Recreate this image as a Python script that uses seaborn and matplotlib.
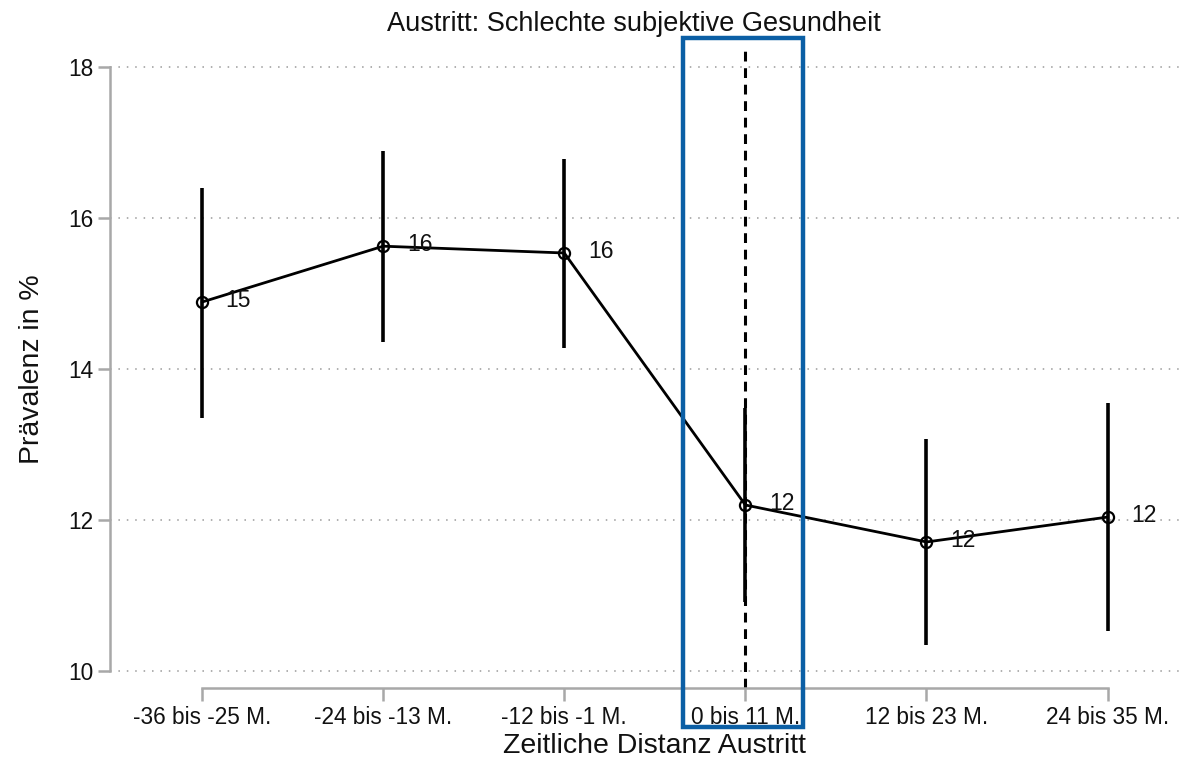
import matplotlib
matplotlib.use("Agg")
import matplotlib.pyplot as plt
from matplotlib.patches import Rectangle
import seaborn as sns
import pandas as pd
import numpy as np

# Prevalence of poor self-rated health around leaving, by time distance
categories = ["-36 bis -25 M.", "-24 bis -13 M.", "-12 bis -1 M.",
              "0 bis 11 M.", "12 bis 23 M.", "24 bis 35 M."]
prevalence = [14.89, 15.63, 15.54, 12.20, 11.71, 12.04]
ci_lower = [13.35, 14.36, 14.28, 10.91, 10.34, 10.53]
ci_upper = [16.40, 16.89, 16.78, 13.48, 13.07, 13.55]
y_ticks = [10, 12, 14, 16, 18]

title = "Austritt: Schlechte subjektive Gesundheit"
x_label = "Zeitliche Distanz Austritt"
y_label = "Prävalenz in %"

sns.set_style("white")
plt.rcParams["font.family"] = ["Liberation Sans", "DejaVu Sans"]

df = pd.DataFrame({"pos": np.arange(len(categories)), "wert": prevalence,
                   "lo": ci_lower, "hi": ci_upper, "kat": categories})

fig = plt.figure(figsize=(11.91, 7.64), dpi=100)
ax = fig.add_axes([0.0924, 0.0995, 0.8984, 0.839])

# confidence intervals
ax.vlines(df["pos"], df["lo"], df["hi"], color="black", linewidth=2.6, zorder=3)

# point estimates
sns.lineplot(data=df, x="pos", y="wert", ax=ax, color="black", linewidth=2.0,
             marker="o", markersize=8, markerfacecolor="none",
             markeredgecolor="black", markeredgewidth=1.6, zorder=4)

# value labels
for x, v in zip(df["pos"], df["wert"]):
    ax.annotate(f"{v:.0f}", (x, v), xytext=(17, 1), textcoords="offset points",
                ha="left", va="center", fontsize=16.5, color="#111111", zorder=5)

# event marker at the time of leaving
ax.axvline(3, color="black", linestyle=(0, (3.2, 2.2)), linewidth=2.2, zorder=2)

ax.set_xlim(-0.508, 5.40)
ax.set_ylim(9.775, 18.27)
ax.set_yticks(y_ticks)
ax.set_yticklabels([str(t) for t in y_ticks])
ax.set_xticks(df["pos"])
ax.set_xticklabels(categories)

for y in y_ticks:
    ax.axhline(y, color="#9a9a9a", linestyle=(0, (1, 4.5)), linewidth=1.1, zorder=1)

for side in ["top", "right"]:
    ax.spines[side].set_visible(False)
ax.spines["left"].set_bounds(10, 18)
ax.spines["bottom"].set_bounds(0, 5)
for side in ["left", "bottom"]:
    ax.spines[side].set_color("#a8a8a8")
    ax.spines[side].set_linewidth(1.8)

ax.tick_params(axis="both", which="major", length=9, width=1.8, color="#a8a8a8",
               labelsize=16.3, labelcolor="#111111", pad=3, direction="out",
               bottom=True, left=True)
ax.tick_params(axis="x", pad=4)

# axis titles centred on the spine ranges
x_mid = (2.5 - ax.get_xlim()[0]) / (ax.get_xlim()[1] - ax.get_xlim()[0])
y_mid = (14 - ax.get_ylim()[0]) / (ax.get_ylim()[1] - ax.get_ylim()[0])
ax.set_xlabel(x_label, fontsize=20.5, color="#111111")
ax.set_ylabel(y_label, fontsize=20.5, color="#111111")
ax.xaxis.set_label_coords(x_mid, -0.071)
ax.yaxis.set_label_coords(-0.061, y_mid)
fig.text(0.532, 0.969, title, ha="center", va="center", fontsize=19.5, color="#111111")

# highlight frame around the first period after leaving
fig.patches.append(Rectangle((683 / 1191, 1 - 727 / 764), 120 / 1191, 689 / 764,
                             transform=fig.transFigure, fill=False,
                             edgecolor="#0b5fa5", linewidth=3.2, zorder=10))

fig.savefig("out.png", dpi=100)
